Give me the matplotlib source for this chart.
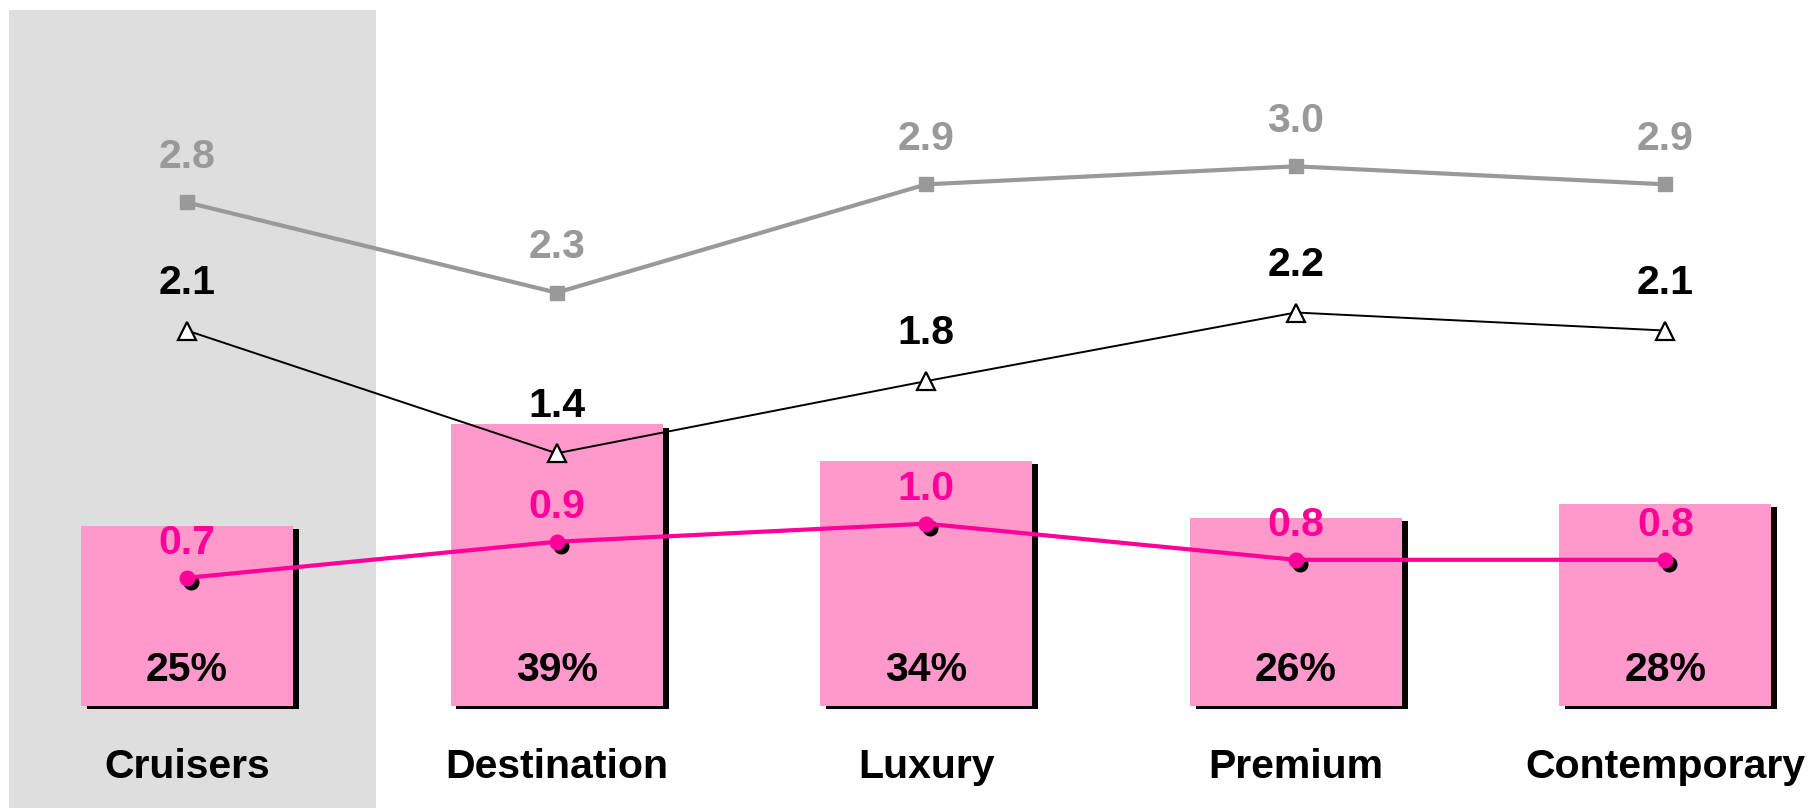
import matplotlib
matplotlib.use("Agg")
import matplotlib.pyplot as plt
import matplotlib.patheffects as pe
import matplotlib.transforms as mtransforms
from matplotlib.patches import Rectangle
import numpy as np

categories = ["Cruisers", "Destination", "Luxury", "Premium", "Contemporary"]
bar_pct = [25, 39, 34, 26, 28]
gray_vals = [2.79, 2.29, 2.89, 2.99, 2.89]
black_vals = [2.08, 1.40, 1.80, 2.18, 2.08]
pink_vals = [0.71, 0.91, 1.01, 0.81, 0.81]

PINK_BAR = "#FF99CC"
PINK_LINE = "#FF0099"
GRAY = "#999999"
BAND = "#DEDEDE"

plt.rcParams['font.family'] = ['Liberation Sans', 'DejaVu Sans']
plt.rcParams['font.weight'] = 'bold'
FS = 29.5

W, H, DPI = 1816, 808, 100
fig = plt.figure(figsize=(W / DPI, H / DPI), dpi=DPI)
ax = fig.add_axes([0, 0, 1, 1])

x = np.arange(len(categories))
spacing = 369.6
x0px = 187
base_px = 102  # from bottom
pct_px = 7.22
val_px = 180.5

ax.set_xlim(-x0px / spacing, (W - x0px) / spacing)
ax.set_ylim(-base_px / pct_px, (H - base_px) / pct_px)
ax.axis('off')

# gray highlight band for Cruisers
band = Rectangle((-0.4816, 0), 0.993, (H - 10) / H, facecolor=BAND, edgecolor='none',
                 transform=mtransforms.blended_transform_factory(ax.transData, ax.transAxes),
                 zorder=0)
ax.add_patch(band)

bars = ax.bar(x, bar_pct, width=0.574, color=PINK_BAR, zorder=2,
              path_effects=[pe.SimplePatchShadow(offset=(4.2, -2.3), shadow_rgbFace='black', alpha=1.0),
                            pe.Normal()])

for i, p in enumerate(bar_pct):
    ax.annotate(f"{p}%", xy=(i, 0), xytext=(0, 25 * 0.72), textcoords='offset points',
                ha='center', va='baseline', fontsize=FS, fontweight='bold', color='black', zorder=5)

for i, c in enumerate(categories):
    ax.annotate(c, xy=(i, 0), xytext=(0, -72 * 0.72), textcoords='offset points',
                ha='center', va='baseline', fontsize=FS, fontweight='bold', color='black')

ax2 = ax.twinx()
ax2.set_position([0, 0, 1, 1])
ax2.set_ylim(-base_px / val_px, (H - base_px) / val_px)
ax2.axis('off')

ax2.plot(x, gray_vals, color=GRAY, lw=3, marker='s', ms=10.5, mfc=GRAY, mec=GRAY, zorder=3)
ax2.plot(x, black_vals, color='black', lw=1.4, marker='^', ms=12.5, mfc='white', mec='black',
         mew=1.6, zorder=3)

shadow_tr = mtransforms.offset_copy(ax2.transData, fig=fig, x=4, y=-4, units='dots')
ax2.plot(x, pink_vals, ls='none', marker='o', ms=10.5, mfc='black', mec='black',
         transform=shadow_tr, zorder=3)
ax2.plot(x, pink_vals, color=PINK_LINE, lw=3, marker='o', ms=10.5, mfc=PINK_LINE, mec=PINK_LINE,
         zorder=4)

for i in range(len(x)):
    ax2.annotate(f"{gray_vals[i]:.1f}", xy=(i, gray_vals[i]), xytext=(0, 34.5 * 0.72),
                 textcoords='offset points', ha='center', va='baseline', fontsize=FS,
                 fontweight='bold', color=GRAY)
    ax2.annotate(f"{black_vals[i]:.1f}", xy=(i, black_vals[i]), xytext=(0, 36.7 * 0.72),
                 textcoords='offset points', ha='center', va='baseline', fontsize=FS,
                 fontweight='bold', color='black')
    ax2.annotate(f"{pink_vals[i]:.1f}", xy=(i, pink_vals[i]), xytext=(0, 24 * 0.72),
                 textcoords='offset points', ha='center', va='baseline', fontsize=FS,
                 fontweight='bold', color=PINK_LINE)

fig.savefig("out.png", dpi=DPI, facecolor='white')
